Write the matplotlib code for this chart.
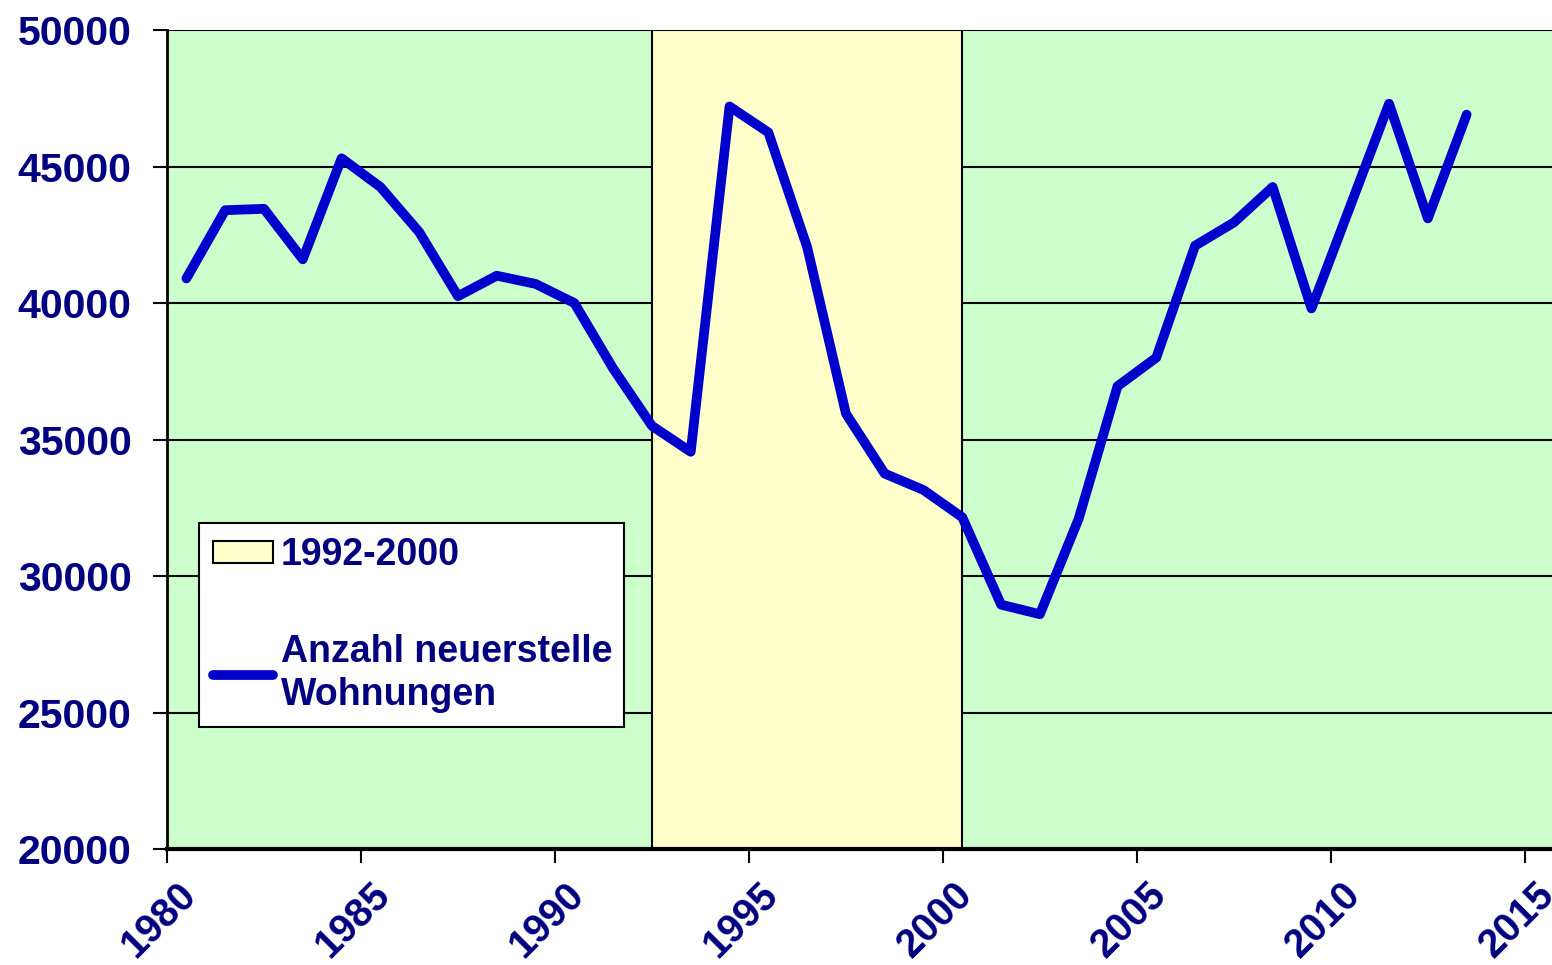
import matplotlib
matplotlib.use("Agg")
import matplotlib.pyplot as plt
import matplotlib.transforms as mtransforms
import numpy as np

# Daten: Anzahl neuerstellter Wohnungen pro Jahr
jahre = list(range(1980, 2014))
wohnungen = [40900, 43400, 43450, 41600, 45300, 44250, 42600, 40250, 41000, 40700,
             40000, 37600, 35500, 34550, 47200, 46250, 42050, 35950, 33750, 33150,
             32150, 28950, 28600, 32100, 36950, 38000, 42100, 42950, 44250, 39800,
             43550, 47300, 43100, 46900]
periode = (1992.5, 2000.5)
periode_label = "1992-2000"
serie_label = "Anzahl neuerstelle\nWohnungen"
x_ticks = [1980, 1985, 1990, 1995, 2000, 2005, 2010, 2015]
y_ticks = [20000, 25000, 30000, 35000, 40000, 45000, 50000]

navy = "#000080"
plt.rcParams["font.family"] = ["Liberation Sans", "DejaVu Sans"]
plt.rcParams["font.weight"] = "bold"

fig = plt.figure(figsize=(15.52, 9.65), dpi=100)
ax = fig.add_axes([0.1076, 0.1202, 0.8924, 0.8487])
ax.set_facecolor("#CCFFCC")

# Gitterlinien
for y in y_ticks:
    ax.axhline(y, color="black", linewidth=1.5, zorder=1)

# Zeitraum 1992-2000
ax.axvspan(periode[0], periode[1], ymin=0, ymax=1, facecolor="#FFFFCC",
           edgecolor="black", linewidth=1.5, zorder=2, label=periode_label)

# Linie (Werte jeweils zur Jahresmitte)
x = np.array(jahre) + 0.5
ax.plot(x, wohnungen, color="#0000CC", linewidth=7, solid_capstyle="round",
        solid_joinstyle="round", zorder=3, label=serie_label)

ax.set_xlim(1980, 2015.7)
ax.set_ylim(20000, 50000)
ax.set_xticks(x_ticks)
ax.set_yticks(y_ticks)
ax.set_xticklabels([str(t) for t in x_ticks], rotation=45, ha="center",
                   fontsize=28.5, fontweight="bold", color=navy)
ax.set_yticklabels([str(t) for t in y_ticks], fontsize=29.5, fontweight="bold", color=navy)
ax.tick_params(axis="y", length=10, width=1.5, pad=15.5)
ax.tick_params(axis="x", length=10, width=1.5, pad=9)

# x-Beschriftungen etwas nach links schieben
shift = mtransforms.ScaledTranslation(-8 / 100, 0, fig.dpi_scale_trans)
for lbl in ax.get_xticklabels():
    lbl.set_transform(lbl.get_transform() + shift)

for s in ["top", "right"]:
    ax.spines[s].set_visible(False)
ax.spines["left"].set_linewidth(2)
ax.spines["bottom"].set_linewidth(3)

leg = ax.legend(loc="upper left", bbox_to_anchor=(0.0231, 0.1497, 0.307, 0.2485),
                mode="expand", fontsize=27, labelspacing=1.62, handlelength=1.6,
                handleheight=0.55, handletextpad=0.2, borderpad=0.38,
                fancybox=False, framealpha=1, edgecolor="black", borderaxespad=0)
leg.get_frame().set_linewidth(1.5)
leg.set_zorder(5)
for t in leg.get_texts():
    t.set_color(navy)
    t.set_fontweight("bold")
    t.set_linespacing(1.25)

fig.savefig("out.png", dpi=100)
